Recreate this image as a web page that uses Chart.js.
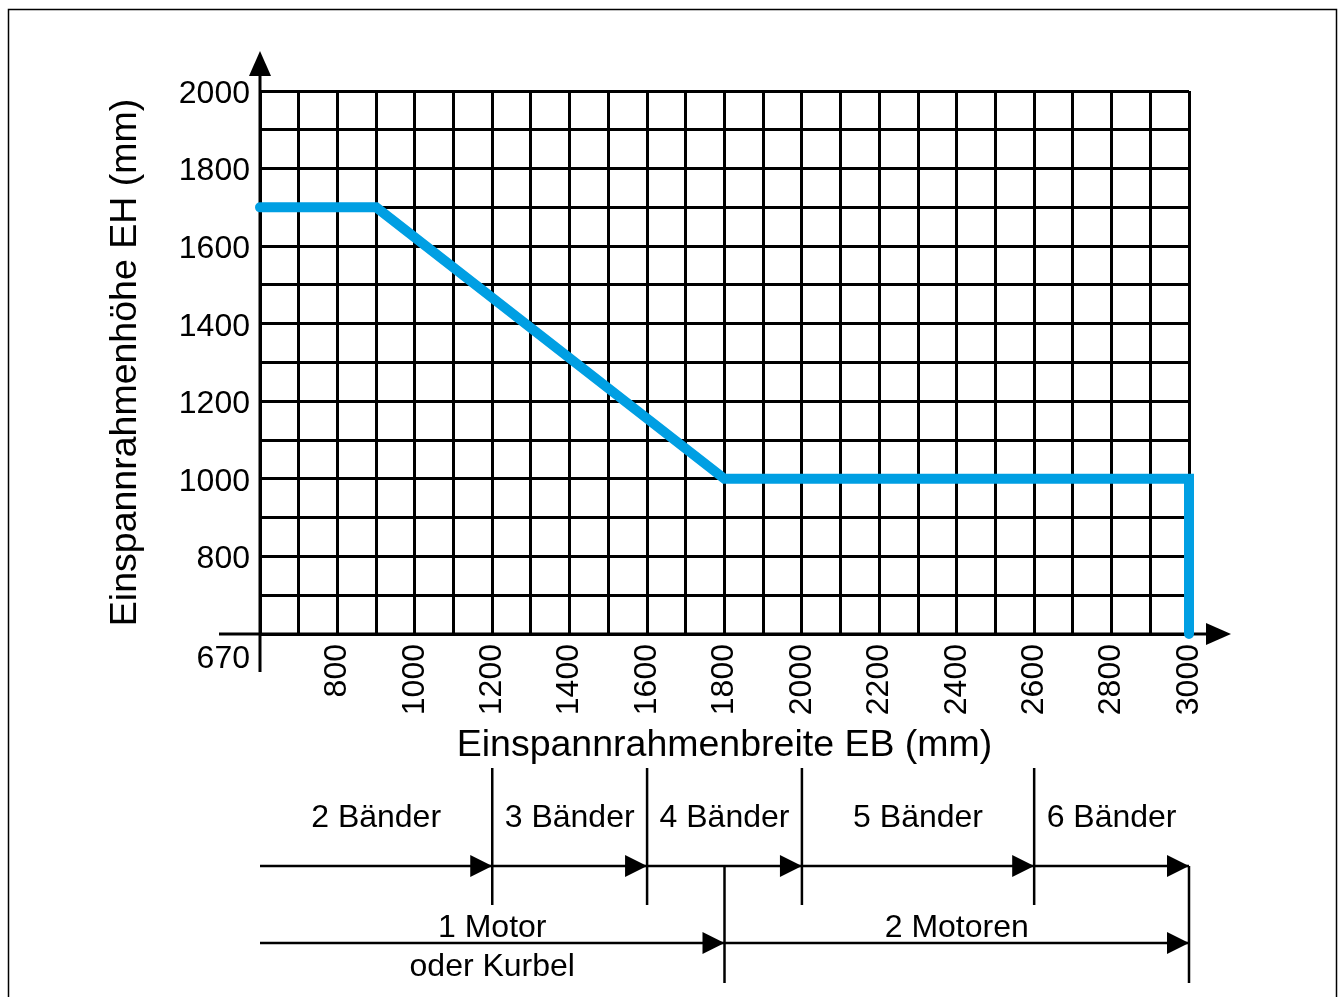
<!DOCTYPE html>
<html>
<head>
<meta charset="utf-8">
<script src="https://cdn.jsdelivr.net/npm/chart.js@4.4.1/dist/chart.umd.min.js"></script>
<style>
  body { margin: 0; background: #fff; }
  canvas { display: block; }
</style>
</head>
<body>
<canvas id="eb-chart" width="1340" height="997"></canvas>
<script>
    "use strict";

    // Data
    const ebValues = [600, 900, 1800, 3000, 3000];
    const ehValues = [1700, 1700, 1000, 1000, 600];
    const ebTickLabels = [800, 1000, 1200, 1400, 1600, 1800, 2000, 2200, 2400, 2600, 2800, 3000];
    const ehTickLabels = [800, 1000, 1200, 1400, 1600, 1800, 2000];
    const cornerLabel = "670";
    const bandBounds = [600, 1200, 1600, 2000, 2600, 3000];
    const bandLabels = ["2 Bänder", "3 Bänder", "4 Bänder", "5 Bänder", "6 Bänder"];
    const motorBounds = [600, 1800, 3000];
    const motorLabels = [["1 Motor", "oder Kurbel"], ["2 Motoren"]];

    const FONT = "Arial, 'Liberation Sans', sans-serif";

    function arrowRight(ctx, x, y) {
        ctx.beginPath();
        ctx.moveTo(x, y);
        ctx.lineTo(x - 22, y - 11);
        ctx.lineTo(x - 22, y + 11);
        ctx.closePath();
        ctx.fill();
    }

    // Axis arrows, extensions and border
    const axisDecor = {
        id: "axisDecor",
        beforeDatasetsDraw(chart) {
            const ctx = chart.ctx;
            const a = chart.chartArea;
            ctx.save();
            ctx.strokeStyle = "#000";
            ctx.fillStyle = "#000";
            ctx.lineWidth = 3;
            ctx.beginPath();
            ctx.moveTo(a.left, 72);
            ctx.lineTo(a.left, 672);
            ctx.moveTo(219, a.bottom);
            ctx.lineTo(1212, a.bottom);
            ctx.stroke();
            // y arrow
            ctx.beginPath();
            ctx.moveTo(a.left, 51);
            ctx.lineTo(a.left - 11, 76);
            ctx.lineTo(a.left + 11, 76);
            ctx.closePath();
            ctx.fill();
            // x arrow
            ctx.beginPath();
            ctx.moveTo(1231, a.bottom);
            ctx.lineTo(1206, a.bottom - 11);
            ctx.lineTo(1206, a.bottom + 11);
            ctx.closePath();
            ctx.fill();
            ctx.restore();
        },
        afterDraw(chart) {
            const ctx = chart.ctx;
            const a = chart.chartArea;
            const x = chart.scales.x;
            ctx.save();
            ctx.strokeStyle = "#000";
            ctx.fillStyle = "#000";

            // outer frame
            ctx.lineWidth = 1.5;
            ctx.strokeRect(8.5, 9.5, 1328, 1000);

            // corner label
            ctx.font = "32px " + FONT;
            ctx.textAlign = "right";
            ctx.textBaseline = "middle";
            ctx.fillText(cornerLabel, a.left - 10, 659);

            // Bänder row
            const bandY = 866;
            ctx.lineWidth = 2.5;
            ctx.beginPath();
            ctx.moveTo(x.getPixelForValue(bandBounds[0]), bandY);
            ctx.lineTo(x.getPixelForValue(bandBounds[bandBounds.length - 1]), bandY);
            for (let i = 1; i < bandBounds.length - 1; i++) {
                const px = x.getPixelForValue(bandBounds[i]);
                ctx.moveTo(px, 768);
                ctx.lineTo(px, 905);
            }
            ctx.stroke();
            for (let i = 1; i < bandBounds.length; i++) {
                arrowRight(ctx, x.getPixelForValue(bandBounds[i]), bandY);
            }
            ctx.textAlign = "center";
            ctx.font = "32px " + FONT;
            bandLabels.forEach((lbl, i) => {
                const mid = (x.getPixelForValue(bandBounds[i]) + x.getPixelForValue(bandBounds[i + 1])) / 2;
                ctx.fillText(lbl, mid, 818);
            });

            // Motor row
            const motorY = 943;
            ctx.beginPath();
            ctx.moveTo(x.getPixelForValue(motorBounds[0]), motorY);
            ctx.lineTo(x.getPixelForValue(motorBounds[motorBounds.length - 1]), motorY);
            for (let i = 1; i < motorBounds.length; i++) {
                const px = x.getPixelForValue(motorBounds[i]);
                ctx.moveTo(px, 866);
                ctx.lineTo(px, 983);
            }
            ctx.stroke();
            for (let i = 1; i < motorBounds.length; i++) {
                arrowRight(ctx, x.getPixelForValue(motorBounds[i]), motorY);
            }
            motorLabels.forEach((lines, i) => {
                const mid = (x.getPixelForValue(motorBounds[i]) + x.getPixelForValue(motorBounds[i + 1])) / 2;
                lines.forEach((t, j) => ctx.fillText(t, mid, 928 + j * 39));
            });
            ctx.restore();
        }
    };

    // Chart
    const ctx1 = document.getElementById("eb-chart").getContext("2d");
    const myChart1 = new Chart(ctx1, {
        type: "line",
        data: {
            datasets: [{
                data: ebValues.map((v, i) => ({ x: v, y: ehValues[i] })),
                borderColor: "#009FE3",
                borderWidth: 10,
                borderCapStyle: "round",
                borderJoinStyle: "miter",
                pointRadius: 0,
                tension: 0,
                clip: false
            }]
        },
        options: {
            responsive: false,
            animation: false,
            layout: { padding: { left: 0, top: 91, right: 151, bottom: 229 } },
            plugins: { legend: { display: false }, tooltip: { enabled: false } },
            scales: {
                x: {
                    type: "linear",
                    min: 600,
                    max: 3000,
                    afterFit: s => { s.height = 134; },
                    grid: { color: "#000", lineWidth: 3, drawTicks: false },
                    border: { color: "#000", width: 3 },
                    ticks: {
                        stepSize: 100,
                        autoSkip: false,
                        minRotation: 90,
                        maxRotation: 90,
                        padding: 10,
                        color: "#000",
                        font: { family: FONT, size: 32 },
                        callback: v => ebTickLabels.includes(v) ? String(v) : ""
                    },
                    title: {
                        display: true,
                        text: "Einspannrahmenbreite EB (mm)",
                        color: "#000",
                        font: { family: FONT, size: 37.5 },
                        padding: { top: 0, bottom: 0 }
                    }
                },
                y: {
                    min: 600,
                    max: 2000,
                    afterFit: s => { s.width = 260; },
                    grid: { color: "#000", lineWidth: 3, drawTicks: false },
                    border: { color: "#000", width: 3 },
                    ticks: {
                        stepSize: 100,
                        autoSkip: false,
                        padding: 10,
                        labelOffset: 3,
                        color: "#000",
                        font: { family: FONT, size: 32 },
                        callback: v => ehTickLabels.includes(v) ? String(v) : ""
                    },
                    title: {
                        display: true,
                        text: "Einspannrahmenhöhe EH (mm)",
                        color: "#000",
                        font: { family: FONT, size: 37.5 },
                        padding: { top: 103, bottom: 0 }
                    }
                }
            }
        },
        plugins: [axisDecor]
    });
</script>
</body>
</html>
